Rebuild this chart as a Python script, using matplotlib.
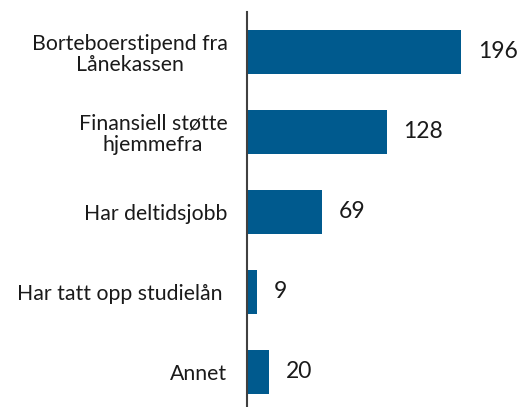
import matplotlib
matplotlib.use("Agg")
import matplotlib.pyplot as plt

categories = ["Borteboerstipend fra\nLånekassen", "Finansiell støtte\nhjemmefra",
              "Har deltidsjobb", "Har tatt opp studielån ", "Annet"]
values = [196, 128, 69, 9, 20]

plt.rcParams['font.family'] = ['Lato', 'DejaVu Sans']
fig = plt.figure(figsize=(5.17, 4.07), dpi=100)
ax = fig.add_axes([247/517, 0.0, (500-247)/517, 1 - 12/407])
y = list(range(len(categories)))
ax.barh(y, values, height=0.56, color="#005A8E")
ax.set_xlim(0, 253/ (214/196))
ax.set_ylim(4.4375, -0.5)
ax.set_yticks(y)
ax.set_yticklabels(categories, multialignment='center', fontsize=15.3, color="#1a1a1a",
                   linespacing=1.05)
ax.tick_params(axis='y', length=0, pad=14)
ax.set_xticks([])
for s in ['top', 'right', 'bottom']:
    ax.spines[s].set_visible(False)
ax.spines['left'].set_color('#404040')
ax.spines['left'].set_linewidth(1.5)
for yi, v in zip(y, values):
    ax.annotate(str(v), (v, yi), xytext=(12, 0), textcoords='offset points',
                va='center', ha='left', fontsize=16.5, color="#1a1a1a")
fig.savefig("out.png", dpi=100)
